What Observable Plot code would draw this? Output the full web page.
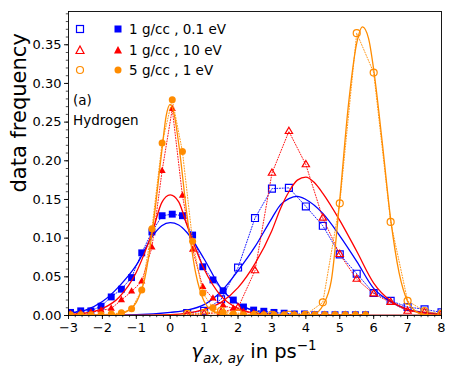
<!DOCTYPE html>
<html><head><meta charset="utf-8">
<script src="https://cdn.jsdelivr.net/npm/d3@7"></script>
<script src="https://cdn.jsdelivr.net/npm/@observablehq/plot@0.6"></script>
<style>
body{margin:0;background:#fff;}
#wrap{position:relative;width:455px;height:371px;font-family:"DejaVu Sans",sans-serif;color:#000;}
#wrap svg.plot{position:absolute;left:0;top:0;}
.lrow{position:absolute;left:0;height:20px;font-size:13.5px;line-height:20px;white-space:nowrap;}
.lrow svg{position:absolute;top:4px;}
.ann{position:absolute;left:73px;font-size:13.5px;line-height:20px;white-space:nowrap;}
#xlabel{position:absolute;top:337px;left:0;width:455px;padding-left:53px;box-sizing:border-box;text-align:center;font-size:19.5px;white-space:nowrap;}
#xlabel sub{font-size:13.5px;font-style:italic;vertical-align:-5px;}
#xlabel sup{font-size:13.5px;vertical-align:8px;}
</style></head><body><div id="wrap"></div>
<script>
// ---- data ----
const series = ["1 g/cc , 0.1 eV", "1 g/cc , 10 eV", "5 g/cc , 1 eV"];
const colors = ["#0000ff", "#ff0000", "#ff8c00"];

// filled markers (0.3 spacing)
const xFilled = [-2.94,-2.64,-2.34,-2.04,-1.74,-1.44,-1.14,-0.84,-0.54,-0.24,0.06,0.36,0.66,0.96,1.26,1.56,1.86,2.16,2.46,2.76,3.06,3.36,3.66,3.96,4.26,4.56,4.86,5.16,5.46,5.76];
const blueFilled = [0.004,0.006,0.006,0.012,0.024,0.034,0.049,0.081,0.108,0.129,0.131,0.129,0.104,0.063,0.046,0.032,0.020,0.011,0.007,0.0055,0.004,0.003,0.002,0.002,0.001,0.001,0.001,0.001,0.001,0.001];
const redFilled = [0.002,0.003,0.004,0.0065,0.009,0.020,0.031,0.044,0.088,0.187,0.267,0.155,0.085,0.037,0.022,0.013,0.009,0.005,0.003,0.002,0.001,0.001,0.001,0.001,0.001,0.001,0.001,0.001,0.001,0.001];
const orangeFilled = [0.001,0.001,0.001,0.001,0.002,0.0035,0.0086,0.033,0.112,0.223,0.279,0.212,0.096,0.029,0.010,0.004,0.002,0.001,0.001,0.001,0.001,0.001,0.001,0.001,0.001,0.001,0.001,0.001,0.001,0.001];

// open markers (0.5 spacing)
const xOpen = [0.5,1,1.5,2,2.5,3,3.5,4,4.5,5,5.5,6,6.5,7,7.5,8];
const blueOpen = [0.003,0.006,0.021,0.062,0.126,0.164,0.165,0.141,0.116,0.079,0.054,0.029,0.019,0.011,0.008,0.004];
const redOpen = [0.001,0.002,0.004,0.010,0.058,0.184,0.238,0.195,0.126,0.079,0.047,0.028,0.017,0.0056,0.004,0.002];
const orangeOpen = [0.002,0.003,0.006,0.003,0.001,0.001,0.001,0.001,0.017,0.145,0.365,0.314,0.121,0.019,0.0056,0.002];

// fitted curves
const xFitBlueL = [-3,-2.5,-2,-1.5,-1,-0.5,-0.25,0,0.25,0.5,1,1.5,2,2.5,3,3.5,4,5,8];
const yFitBlueL = [0.003,0.007,0.018,0.038,0.065,0.104,0.116,0.120,0.117,0.107,0.073,0.035,0.015,0.006,0.002,0.001,0,0,0];
const xFitRedL = [-3,-2.5,-2,-1.5,-1,-0.5,-0.25,0,0.25,0.5,1,1.5,2,2.5,3,3.5,4,5,8];
const yFitRedL = [0.001,0.003,0.009,0.024,0.056,0.112,0.146,0.156,0.147,0.116,0.060,0.025,0.009,0.003,0.001,0,0,0,0];
const xFitOrangeL = [-3,-2,-1.5,-1.25,-1,-0.75,-0.5,-0.25,-0.12,0,0.12,0.25,0.5,0.75,1,1.25,1.5,2,3,8];
const yFitOrangeL = [0,0,0.002,0.006,0.017,0.048,0.118,0.212,0.258,0.273,0.259,0.222,0.128,0.055,0.018,0.006,0.002,0,0,0];
const xFitBlueR = [-3,-1,0,0.5,1,1.5,2,2.5,3,3.25,3.5,3.75,4,4.5,5,5.5,6,6.5,7,7.5,8];
const yFitBlueR = [0,0.001,0.004,0.007,0.014,0.031,0.058,0.089,0.126,0.143,0.151,0.154,0.150,0.132,0.103,0.070,0.035,0.018,0.008,0.004,0.002];
const xFitRedR = [-3,-1,0,0.5,1,1.5,2,2.5,3,3.25,3.5,3.75,4,4.25,4.5,5,5.5,6,6.5,7,7.5,8];
const yFitRedR = [0,0,0.001,0.003,0.008,0.017,0.036,0.067,0.110,0.138,0.160,0.175,0.179,0.172,0.158,0.123,0.083,0.042,0.019,0.008,0.003,0.001];
const xFitOrangeR = [-3,3,4,4.25,4.5,4.75,5,5.25,5.5,5.67,5.85,6,6.25,6.5,6.75,7,7.25,7.5,8];
const yFitOrangeR = [0,0,0,0.002,0.013,0.045,0.150,0.270,0.352,0.373,0.358,0.318,0.225,0.125,0.055,0.018,0.005,0.001,0];

const xTicks = [-3,-2,-1,0,1,2,3,4,5,6,7,8];
const yTicks = [0,0.05,0.10,0.15,0.20,0.25,0.30,0.35];

// ---- helpers ----
const pts = (xs, ys) => xs.map((x, i) => ({x, y: ys[i]}));
const symbols = ["square", "triangle", "circle"];
const rFor = {square: 3.9, triangle: 2.7, circle: 3.5};

const filled = [blueFilled, redFilled, orangeFilled];
const opened = [blueOpen, redOpen, orangeOpen];
const fits = [
  [[xFitBlueL, yFitBlueL], [xFitBlueR, yFitBlueR]],
  [[xFitRedL, yFitRedL], [xFitRedR, yFitRedR]],
  [[xFitOrangeL, yFitOrangeL], [xFitOrangeR, yFitOrangeR]]
];

const marks = [];
for (let s = 0; s < 3; s++) {
  const c = colors[s], sym = symbols[s];
  const fd = pts(xFilled, filled[s]);
  const od = pts(xOpen, opened[s]);
  marks.push(Plot.line(fd, {x: "x", y: "y", stroke: c, strokeWidth: 1, strokeDasharray: "1,1.7", strokeOpacity: 0.9, clip: true}));
  marks.push(Plot.line(od, {x: "x", y: "y", stroke: c, strokeWidth: 1, strokeDasharray: "1,1.7", strokeOpacity: 0.9, clip: true}));
  marks.push(Plot.dot(fd, {x: "x", y: "y", symbol: sym, r: rFor[sym], fill: c, stroke: "none", clip: true}));
  marks.push(Plot.dot(od, {x: "x", y: "y", symbol: sym, r: rFor[sym], fill: "none", stroke: c, strokeWidth: 1.2, clip: true}));
  for (const [xs, ys] of fits[s]) {
    marks.push(Plot.line(pts(xs, ys), {x: "x", y: "y", stroke: c, strokeWidth: 1.3, curve: "monotone-x", clip: true}));
  }
}

const minus = d => d < 0 ? "\u2212" + (-d) : String(d);

const chart = Plot.plot({
  width: 455, height: 371,
  marginLeft: 68, marginRight: 14, marginTop: 11, marginBottom: 56,
  style: {fontFamily: "DejaVu Sans", fontSize: "13px", color: "#000", background: "transparent", overflow: "visible"},
  x: {domain: [-3, 8]},
  y: {domain: [0, 0.393]},
  marks: [
    ...marks,
    Plot.frame({stroke: "#000", strokeWidth: 0.9}),
    Plot.axisX({ticks: d3.range(-3, 8.001, 0.2), tickSize: 2.2, fill: "none", label: null, strokeWidth: 0.7}),
    Plot.axisY({ticks: d3.range(0, 0.3901, 0.01), tickSize: 2.2, fill: "none", label: null, strokeWidth: 0.7}),
    Plot.axisX({ticks: xTicks, tickSize: 4, tickPadding: 3, tickFormat: minus, label: null, strokeWidth: 0.9, fontSize: 13}),
    Plot.axisY({ticks: yTicks, tickSize: 4, tickPadding: 3, tickFormat: d3.format(".2f"), label: null, strokeWidth: 0.9, fontSize: 13}),
    Plot.text(["data frequency"], {frameAnchor: "left", dx: -49, dy: 29, rotate: -90, fontSize: 21, fill: "#000"})
  ]
});
chart.classList.add("plot");
const wrap = document.getElementById("wrap");
wrap.append(chart);

// legend (inside the axes, top-left)
const rowsTop = [19, 39.5, 60];
function symSvg(sym, color, open) {
  const ns = "http://www.w3.org/2000/svg";
  const svg = document.createElementNS(ns, "svg");
  svg.setAttribute("width", 12); svg.setAttribute("height", 12);
  let el;
  if (sym === "square") { el = document.createElementNS(ns, "rect"); el.setAttribute("x", 2.5); el.setAttribute("y", 2.5); el.setAttribute("width", 7); el.setAttribute("height", 7); }
  else if (sym === "triangle") { el = document.createElementNS(ns, "path"); el.setAttribute("d", "M6,2 L10,9.5 L2,9.5 Z"); }
  else { el = document.createElementNS(ns, "circle"); el.setAttribute("cx", 6); el.setAttribute("cy", 6); el.setAttribute("r", 3.5); }
  if (open) { el.setAttribute("fill", "none"); el.setAttribute("stroke", color); el.setAttribute("stroke-width", 1.2); }
  else { el.setAttribute("fill", color); }
  svg.append(el);
  return svg;
}
series.forEach((name, i) => {
  const row = document.createElement("div");
  row.className = "lrow";
  row.style.top = rowsTop[i] + "px";
  const a = symSvg(symbols[i], colors[i], true); a.style.left = "74px";
  const b = symSvg(symbols[i], colors[i], false); b.style.left = "112px";
  const t = document.createElement("span"); t.textContent = name; t.style.position = "absolute"; t.style.left = "129px";
  row.append(a, b, t);
  wrap.append(row);
});
const ann1 = document.createElement("div"); ann1.className = "ann"; ann1.style.top = "90px"; ann1.textContent = "(a)";
const ann2 = document.createElement("div"); ann2.className = "ann"; ann2.style.top = "110px"; ann2.textContent = "Hydrogen";
wrap.append(ann1, ann2);

const xl = document.createElement("div");
xl.id = "xlabel";
xl.innerHTML = '<i>γ</i><sub>ax, ay</sub> in ps<sup>\u22121</sup>';
wrap.append(xl);
</script>
</body></html>
